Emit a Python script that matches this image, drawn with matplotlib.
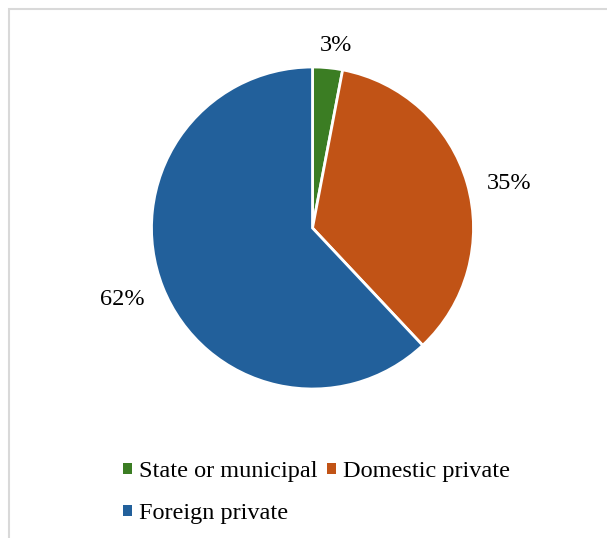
import matplotlib
matplotlib.use("Agg")
import numpy as np
from matplotlib import pyplot as plt
from matplotlib.patches import Patch, Rectangle

# ownership shares, percent
categories = ["State or municipal", "Domestic private", "Foreign private"]
shares = [3, 35, 62]
colors = ["#3B7D23", "#C15316", "#22609B"]

plt.rcParams["font.family"] = ["Liberation Serif", "DejaVu Serif"]

W, H = 607, 538
fig = plt.figure(figsize=(W / 100, H / 100), dpi=100)

# light gray chart border (only top and left edges fall inside the image)
fig.patches.append(Rectangle((8.5 / W, -0.1), 1.2, 1.1 - 9 / H, transform=fig.transFigure,
                             fill=False, edgecolor="#d9d9d9", linewidth=1.5))

cx, cy, r, k = 312.5, 228, 161, 1.4
side = 2 * r * k
ax = fig.add_axes([(cx - side / 2) / W, (H - cy - side / 2) / H, side / W, side / H])
wedges, _, pcts = ax.pie(shares, colors=colors, startangle=90, counterclock=False,
                         autopct="%.0f%%", pctdistance=1.22,
                         wedgeprops=dict(edgecolor="white", linewidth=2),
                         textprops=dict(fontsize=17.5, color="black"))

# nudge the percentage labels outside each slice
label_dist = [1.14, 1.25, 1.26]
label_turn = [-2.0, -3.5, -1.0]
for w, t, d, turn in zip(wedges, pcts, label_dist, label_turn):
    ang = np.deg2rad((w.theta1 + w.theta2) / 2 + turn)
    t.set_position((d * np.cos(ang), d * np.sin(ang)))

ax.set_xlim(-k, k)
ax.set_ylim(-k, k)
ax.set_aspect("equal")
ax.axis("off")

# legend: two columns, third entry wraps under the first
handles = [Patch(facecolor=c) for c in colors]
order = [0, 2, 1]
fig.legend([handles[i] for i in order], [categories[i] for i in order],
           loc="upper left", bbox_to_anchor=(123 / W, 1 - 461 / H), ncol=2,
           frameon=False, fontsize=17.5, borderpad=0, borderaxespad=0,
           handlelength=0.35, handleheight=0.35, handletextpad=0.3,
           columnspacing=0.4, labelspacing=0.87)

fig.savefig("out.png", dpi=100)
